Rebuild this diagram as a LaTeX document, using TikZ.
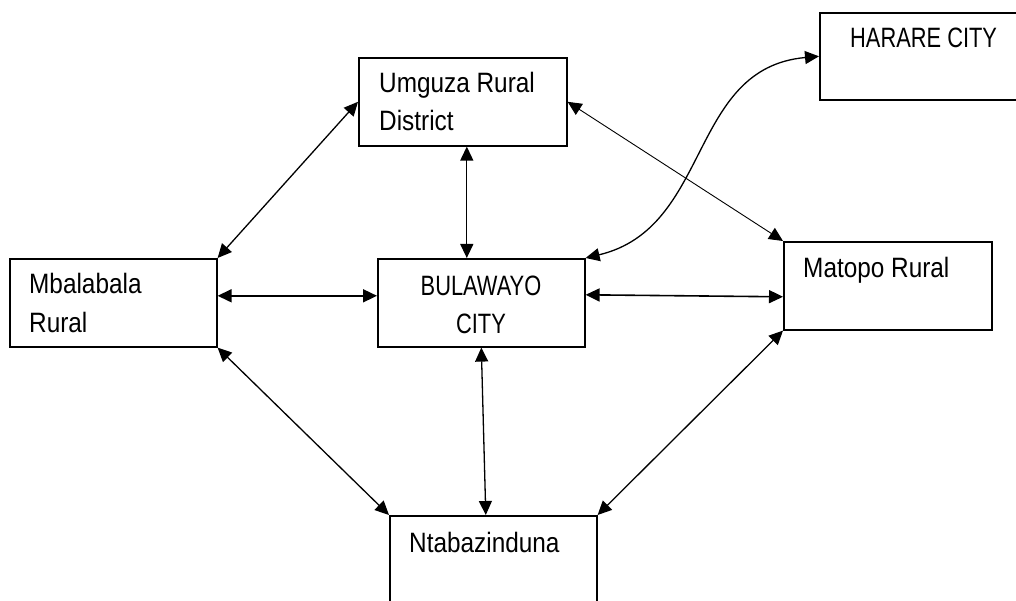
\documentclass[tikz,border=0pt]{standalone}
\usepackage{fontspec}
\setmainfont[FakeStretch=0.87]{Liberation Sans}
\newfontfamily\capsfont[FakeStretch=0.78]{Liberation Sans}
\usetikzlibrary{arrows.meta,calc}
\begin{document}
\begin{tikzpicture}[x=1pt,y=-1pt,
  box/.style={draw, line width=1.6pt, inner sep=0pt, anchor=north west},
  lbl/.style={anchor=base west, inner sep=0pt, font=\fontsize{28}{38}\selectfont},
  caps/.style={lbl, font=\capsfont\fontsize{28}{38}\selectfont},
  link/.style={line width=1.3pt, {Triangle[length=14pt,width=13pt]}-{Triangle[length=14pt,width=13pt]}}
]
\clip (0,0) rectangle (1016,601);
% boxes
\node[box, minimum width=208pt, minimum height=88pt] (umg) at (358,57) {};
\node[box, minimum width=203pt, minimum height=87pt] (har) at (819,12) {};
\node[box, minimum width=207pt, minimum height=88pt] (mba) at (9,258) {};
\node[box, minimum width=207pt, minimum height=88pt] (bul) at (377,258) {};
\node[box, minimum width=208pt, minimum height=88pt] (mat) at (783,241) {};
\node[box, minimum width=207pt, minimum height=95pt] (nta) at (389,515) {};
% labels
\node[lbl] (umgA) at (379,93) {Umguza Rural};
\node[lbl] (umgB) at (379,131) {District};
\node[caps] (harA) at (850,48) {HARARE CITY};
\node[lbl] (mbaA) at (29,294) {Mbalabala};
\node[lbl] (mbaB) at (29,332) {Rural};
\node[caps, anchor=base] (bulA) at (481,295) {BULAWAYO};
\node[caps, anchor=base] (bulB) at (481,333) {CITY};
\node[lbl] (matA) at (803,277) {Matopo Rural};
\node[lbl] (ntaA) at (409,552) {Ntabazinduna};
% connectors
\draw[link] (umg.west) -- (mba.north east);
\draw[link] ([xshift=4pt]umg.south) -- ([xshift=-14.5pt]bul.north);
\draw[link, line width=0.9pt] (umg.east) -- (mat.north west);
\draw[link] (bul.north east) .. controls (712,228) and (688,68) .. (har.west);
\draw[link, line width=1.6pt] ([yshift=7pt]mba.east) -- ([yshift=7pt]bul.west);
\draw[link, line width=1.6pt] ([yshift=8pt]bul.east) -- ([yshift=-11pt]mat.west);
\draw[link] (mba.south east) -- (nta.north west);
\draw[link] (bul.south) -- ([xshift=-7.5pt]nta.north);
\draw[link] (mat.south west) -- (nta.north east);
\end{tikzpicture}
\end{document}
